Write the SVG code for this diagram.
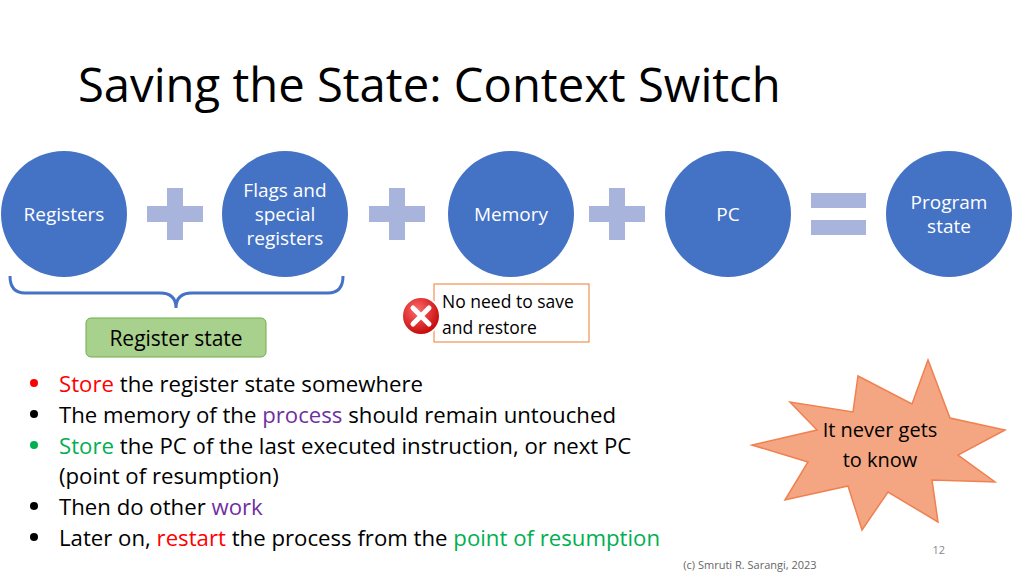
<svg xmlns="http://www.w3.org/2000/svg" width="1024" height="575" viewBox="0 0 1024 575">
<defs>
<style>
text{font-family:"Open Sans","Noto Sans","Liberation Sans",sans-serif}
.c{fill:#4472c4}
.ct{fill:#fff;font-size:19px;text-anchor:middle}
.pl{fill:#a9b4dc}
.b{font-size:22.2px;fill:#000}
</style>
<radialGradient id="x" cx="0.4" cy="0.35" r="0.7"><stop offset="0" stop-color="#ff6b6b"/><stop offset="1" stop-color="#c00000"/></radialGradient>
</defs>
<rect width="1024" height="575" fill="#fff"/>
<text x="78" y="102" font-size="47.2" fill="#000">Saving the State: Context Switch</text>
<g id="registers"><circle class="c" cx="64" cy="214" r="63"/><text class="ct" x="64" y="221">Registers</text></g>
<g id="flags"><circle class="c" cx="285" cy="214" r="63"/><text class="ct" x="285" y="197">Flags and</text><text class="ct" x="285" y="221">special</text><text class="ct" x="285" y="245">registers</text></g>
<g id="memory"><circle class="c" cx="511" cy="214" r="63"/><text class="ct" x="511" y="221">Memory</text></g>
<g id="pc"><circle class="c" cx="728" cy="214" r="63"/><text class="ct" x="728" y="221">PC</text></g>
<g id="program"><circle class="c" cx="949" cy="214" r="63"/><text class="ct" x="949" y="209">Program</text><text class="ct" x="949" y="233">state</text></g>
<g id="ops">
<path class="pl" d="M167,188h16v18h20v16h-20v18h-16v-18h-20v-16h20z"/>
<path class="pl" d="M389,188h16v18h20v16h-20v18h-16v-18h-20v-16h20z"/>
<path class="pl" d="M609,188h16v18h20v16h-20v18h-16v-18h-20v-16h20z"/>
<rect class="pl" x="811" y="193" width="55" height="15"/><rect class="pl" x="811" y="220" width="55" height="15"/>
</g>
<g id="connectors">
<path d="M10,276 Q10,293 25,293 H160 Q176,293 176,308 Q176,293 192,293 H328 Q343,293 343,276" fill="none" stroke="#4472c4" stroke-width="3"/>
</g>
<g id="regstate"><rect x="86" y="318" width="180" height="39" rx="5" fill="#a9d18e" stroke="#70ad47"/><text x="176" y="346" font-size="21" text-anchor="middle">Register state</text></g>
<g id="noneed"><rect x="434" y="284" width="155" height="58" fill="#fff" stroke="#ed7d31"/><text x="442" y="308" font-size="17.5">No need to save</text><text x="442" y="334" font-size="17.5">and restore</text></g>
<g id="xicon"><circle cx="421" cy="316" r="19" fill="url(#x)" stroke="#fff" stroke-width="2"/><path d="M413,308L429,324M429,308L413,324" stroke="#fff" stroke-width="5" stroke-linecap="round"/></g>
<g>
<circle cx="34" cy="383" r="4" fill="#ff0000"/>
<circle cx="34" cy="414" r="4" fill="#000"/>
<circle cx="34" cy="445" r="4" fill="#00b050"/>
<circle cx="34" cy="506" r="4" fill="#000"/>
<circle cx="34" cy="537" r="4" fill="#000"/>
<text class="b" x="59" y="392"><tspan fill="#ff0000">Store</tspan> the register state somewhere</text>
<text class="b" x="59" y="423">The memory of the <tspan fill="#7030a0">process</tspan> should remain untouched</text>
<text class="b" x="59" y="454"><tspan fill="#00b050">Store</tspan> the PC of the last executed  instruction, or next PC</text>
<text class="b" x="59" y="484">(point of resumption)</text>
<text class="b" x="59" y="515">Then do other <tspan fill="#7030a0">work</tspan></text>
<text class="b" x="59" y="546">Later on, <tspan fill="#ff0000">restart</tspan> the process from the <tspan fill="#00b050">point of resumption</tspan></text>
</g>
<g id="star"><path d="M928,360 L912,404 L858,376 L853,412 L790,402 L817,430 L752,445 L808,462 L785,500 L848,486 L862,530 L888,492 L938,522 L932,480 L995,482 L958,455 L1005,430 L950,418 Z" fill="#f4a582" stroke="#f08050" stroke-width="1.5"/>
<text x="880" y="437" font-size="20" text-anchor="middle">It never gets</text><text x="880" y="467" font-size="20" text-anchor="middle">to know</text></g>
<text x="945" y="554" font-size="11" fill="#888" text-anchor="end">12</text>
<text x="750" y="569" font-size="11" fill="#666" text-anchor="middle">(c) Smruti R. Sarangi, 2023</text>
</svg>
